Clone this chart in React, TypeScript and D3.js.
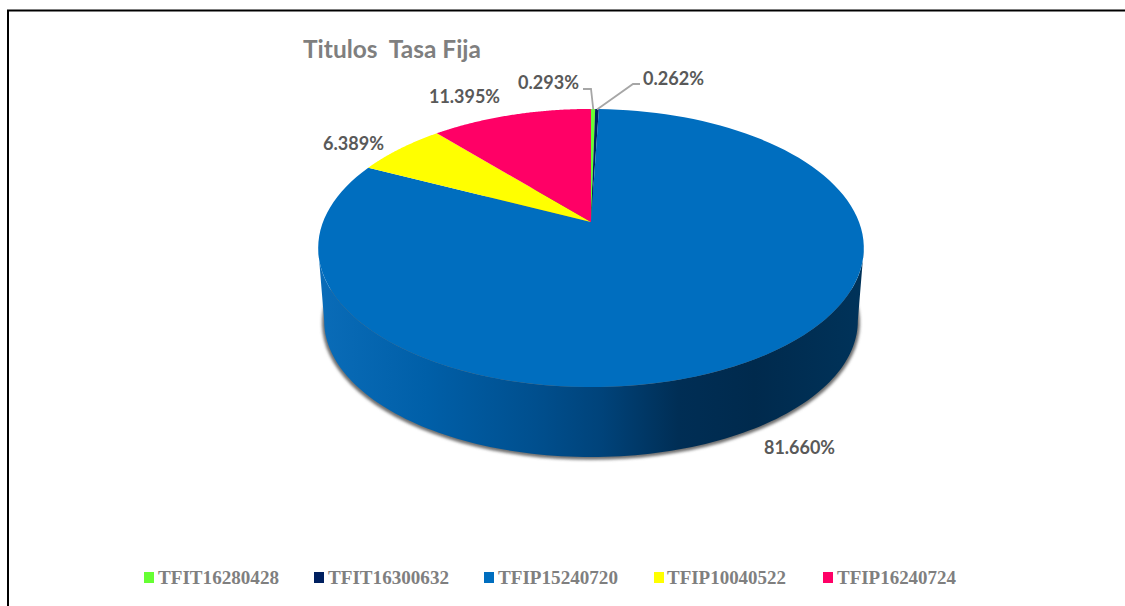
import React from "react";
import * as d3 from "d3";

const categories = ["TFIT16280428", "TFIT16300632", "TFIP15240720", "TFIP10040522", "TFIP16240724"];
const values = [0.293, 0.262, 81.66, 6.389, 11.395];
const valueLabels = ["0.293%", "0.262%", "81.660%", "6.389%", "11.395%"];
const colors = ["#66ff33", "#002060", "#006ebf", "#ffff00", "#ff0066"];
const labelX = [518, 643, 764, 323, 429];
const labelY = [89, 85, 454, 150, 103];
const labelW = [61, 61, 71, 61, 71];
const legendSwatchX = [144, 314, 484, 654, 823];
const legendTextX = [158, 328, 498, 667, 837];
const legendTextW = [121, 121, 120, 119, 119];
const sideStops: [number, string][] = [
  [0, "#0a6cb8"], [0.2, "#005fa8"], [0.4, "#004f8e"], [0.52, "#00437a"],
  [0.66, "#002e55"], [0.8, "#002a4d"], [1, "#00335a"],
];

// perspective projection of a unit circle lying flat
const cx = 591, topY = 222, a = 268, b = 134.2, k = 0.187;
const project = (t: number, scale = 1, dy = 0): [number, number] => {
  const u = Math.sin(t), v = -Math.cos(t);
  const d = 1 - k * v;
  return [cx + (scale * a * u) / d, topY + dy + (scale * b * v) / d];
};
const tExtreme = Math.acos(-k); // angle of widest point
const line = d3.line();
const sweep = (t0: number, t1: number, scale = 1, dy = 0) =>
  d3.range(0, 121).map((i) => project(t0 + ((t1 - t0) * i) / 120, scale, dy));

const bottomScale = 0.978, bottomDy = 73.6;
const pie = d3.pie<number>().sort(null)(values);

export default function App() {
  const sidePts = [
    ...sweep(tExtreme, 2 * Math.PI - tExtreme),
    ...sweep(2 * Math.PI - tExtreme, tExtreme, bottomScale, bottomDy),
  ];
  const shadowOutline = sweep(0, 2 * Math.PI, bottomScale + 0.008, bottomDy + 0.5);
  const x = d3.scaleLinear().domain([0, 1]).range([318, 864]);
  return (
    <svg width={1125} height={606} style={{ position: "absolute", left: 0, top: 0, background: "#fff" }}
      fontFamily="Lato, sans-serif">
      <defs>
        <linearGradient id="side" gradientUnits="userSpaceOnUse" x1={x(0)} x2={x(1)} y1={0} y2={0}>
          {sideStops.map(([o, c]) => <stop key={o} offset={o} stopColor={c} />)}
        </linearGradient>
        <filter id="blur" x="-10%" y="-10%" width="120%" height="120%">
          <feGaussianBlur stdDeviation={1.8} />
        </filter>
      </defs>
      <path d="M8,606V10.5H1125" fill="none" stroke="#000" strokeWidth={2} />
      <text x={303} y={58} fontSize={24} fontWeight={700} fill="#7f7f7f" textLength={178} lengthAdjust="spacingAndGlyphs" xmlSpace="preserve">Titulos  Tasa Fija</text>
      <path d={line(shadowOutline) + "Z"} transform="translate(0,1)" fill="#707070" filter="url(#blur)" />
      <path d={line(sidePts) + "Z"} fill="url(#side)" />
      {pie.map((p, i) => (
        <path key={categories[i]}
          d={line([[cx, topY] as [number, number], ...sweep(p.startAngle, p.endAngle)]) + "Z"}
          fill={colors[i]} />
      ))}
      <polyline points="583,89 591,89 593.3,109.5" fill="none" stroke="#a6a6a6" strokeWidth={1.8} />
      <polyline points="640,84 633,84 597,109.5" fill="none" stroke="#a6a6a6" strokeWidth={1.8} />
      {valueLabels.map((l, i) => (
        <text key={l} x={labelX[i]} y={labelY[i]} fontSize={19} fontWeight={700} fill="#595959"
          textLength={labelW[i]} lengthAdjust="spacingAndGlyphs">{l}</text>
      ))}
      {categories.map((c, i) => (
        <g key={c}>
          <rect x={legendSwatchX[i]} y={572} width={10} height={11} fill={colors[i]} />
          <text x={legendTextX[i]} y={584} fontFamily="'Liberation Serif', serif" fontSize={18} fontWeight={700}
            fill="#7f7f7f" textLength={legendTextW[i]} lengthAdjust="spacingAndGlyphs">{c}</text>
        </g>
      ))}
    </svg>
  );
}
